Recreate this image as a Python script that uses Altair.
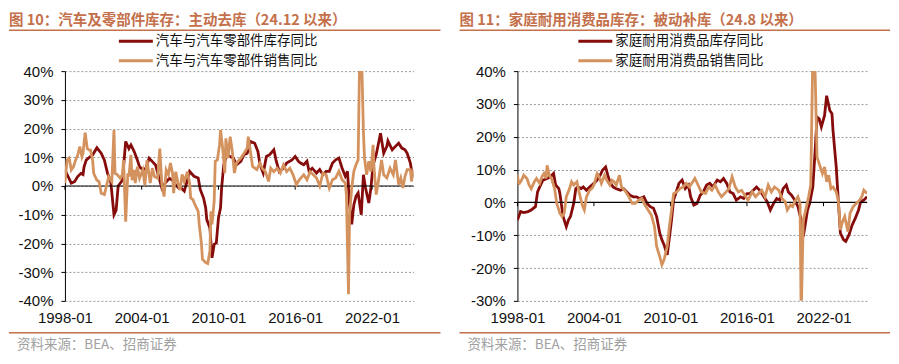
import altair as alt
import pandas as pd

# ---------------- data (values in %, months counted from 1998-01) ----------------
AUTO_TITLE = "图 10：汽车及零部件库存：主动去库（24.12 以来）"
DUR_TITLE = "图 11：家庭耐用消费品库存：被动补库（24.8 以来）"
AUTO_NAMES = ["汽车与汽车零部件库存同比", "汽车与汽车零部件销售同比"]
DUR_NAMES = ["家庭耐用消费品库存同比", "家庭耐用消费品销售同比"]
SOURCE = "资料来源：BEA、招商证券"
X_TICK_LABELS = ["1998-01", "2004-01", "2010-01", "2016-01", "2022-01"]
Y_TICKS_AUTO = [-40, -30, -20, -10, 0, 10, 20, 30, 40]
Y_TICKS_DUR = [-30, -20, -10, 0, 10, 20, 30, 40]
AUTO_END = "2025-04"
DUR_END = "2025-06"

# (months since 1998-01, YoY %)
auto_inv = [(0,5.6),(3,3.3),(6,1.0),(9,1.5),(12,3.3),(15,4.4),(17,4.0),(18,6.7),(20,9.0),(23,10.0),
    (26,10.8),(30,13.3),(34,11.4),(37,9.0),(40,4.4),(43,1.5),(46,-10.0),(48,-8.4),(50,0.0),(54,2.0),
    (57,15.5),(60,13.0),(62,14.3),(65,12.0),(68,9.0),(70,6.7),(73,5.6),(76,6.2),(79,9.7),(82,8.5),
    (85,7.3),(88,3.3),(91,-0.8),(94,1.0),(98,2.7),(101,2.0),(104,0.3),(107,-0.8),(109,-0.7),(112,-1.8),
    (115,2.2),(117,5.1),(121,3.4),(125,2.8),(127,-1.3),(130,-4.2),(132,-7.6),(133,-11.7),(136,-14.6),
    (138,-25.0),(140,-20.3),(142,-19.8),(144,-11.1),(146,-7.6),(147,-0.7),(149,7.4),(152,10.9),(155,10.3),
    (158,9.7),(161,7.4),(165,8.6),(168,10.9),(171,11.4),(174,15.5),(178,14.9),(181,12.0),(183,7.4),
    (186,4.5),(189,10.3),(192,10.9),(196,12.6),(198,9.1),(201,5.0),(205,6.2),(208,8.0),(213,9.1),
    (216,10.3),(219,8.6),(221,8.0),(224,7.4),(227,8.6),(229,5.1),(232,6.2),(236,4.5),(239,5.7),(242,3.9),
    (245,5.1),(248,5.1),(251,8.0),(254,9.1),(257,9.7),(260,6.2),(263,3.4),(265,5.1),(267,-6.5),(269,-13.4),
    (271,-6.5),(273,-3.6),(275,-2.4),(278,-10.0),(280,3.9),(282,-0.7),(285,-5.9),(287,-0.7),(289,7.4),
    (292,10.9),(296,18.4),(299,11.4),(302,13.8),(303,15.7),(307,12.6),(310,13.8),(313,14.9),(316,13.2),
    (319,12.6),(321,11.4),(324,8.0),(326,3.4),(327,3.4)]

auto_sales = [(0,1.0),(2,9.0),(4,9.7),(6,5.6),(8,6.7),(10,9.0),(12,10.8),(14,13.7),(16,10.2),(17,11.4),
    (19,18.6),(21,13.0),(23,12.5),(24,12.5),(26,9.0),(27,4.4),(30,2.0),(32,1.5),(34,-2.5),(37,-3.0),
    (39,0.0),(41,3.3),(44,1.5),(46,19.5),(47,4.4),(49,4.0),(52,2.7),(54,4.0),(55,9.0),(57,-12.4),
    (59,4.4),(60,3.3),(62,10.8),(63,2.0),(65,5.6),(66,1.0),(68,6.7),(70,2.7),(73,5.6),(75,0.3),(77,9.0),
    (80,1.0),(82,6.2),(84,3.3),(87,2.7),(89,13.0),(91,0.3),(93,-3.7),(95,5.6),(97,4.0),(99,8.0),(101,4.4),
    (102,-2.5),(104,5.0),(106,1.0),(108,-1.4),(110,4.0),(112,1.6),(115,5.0),(117,1.0),(118,-4.2),
    (120,-4.7),(122,-6.5),(125,-8.8),(126,-13.4),(128,-20.0),(129,-25.5),(132,-26.7),(134,-27.0),
    (136,-22.7),(137,-8.8),(138,-13.4),(140,-5.3),(141,8.6),(143,9.1),(145,14.3),(146,19.5),(148,13.2),
    (150,4.5),(151,16.6),(153,9.7),(155,17.2),(157,12.0),(159,4.5),(161,8.0),(165,9.7),(168,11.4),
    (171,13.2),(172,17.2),(174,12.0),(176,6.8),(180,5.7),(183,8.0),(185,6.2),(188,5.0),(191,1.6),
    (193,6.2),(196,5.0),(199,6.2),(202,4.5),(205,7.4),(208,5.0),(211,6.2),(214,3.9),(217,0.5),(220,2.2),
    (224,3.9),(227,2.2),(230,5.0),(233,3.9),(236,2.8),(239,0.0),(242,4.5),(245,3.9),(248,-0.7),(251,2.2),
    (254,2.8),(257,5.1),(260,2.2),(263,1.0),(264,-3.0),(266,-37.7),(267,-10.0),(269,-0.7),(271,5.1),
    (273,7.4),(275,9.1),(277,60.0),(278,50.0),(280,19.0),(281,9.7),(283,3.9),(285,8.6),(287,5.0),
    (289,14.3),(290,6.2),(292,-3.0),(295,3.9),(297,9.1),(299,3.9),(302,2.8),(305,6.2),(308,3.9),
    (310,9.1),(313,0.5),(315,2.8),(317,-0.7),(319,3.4),(321,5.7),(324,5.7),(325,1.6),(327,5.7)]

dur_inv = [(0,-5.4),(3,-2.8),(6,-3.1),(10,-2.8),(13,-2.3),(17,-1.3),(19,3.2),(21,4.7),(24,6.8),(28,7.3),
    (31,7.8),(34,8.8),(36,5.3),(39,4.2),(40,2.7),(43,-4.3),(46,-7.4),(48,-5.4),(50,-4.3),(53,-0.3),
    (55,4.2),(57,4.7),(60,4.2),(62,4.7),(65,3.7),(68,4.7),(72,5.8),(75,6.8),(78,8.3),(80,9.8),(83,10.8),
    (85,8.3),(87,6.3),(90,4.7),(93,4.2),(97,3.7),(100,4.2),(103,3.2),(106,2.2),(109,1.7),(112,1.7),
    (115,1.2),(119,1.7),(122,-0.3),(125,-1.3),(128,-1.8),(131,-4.3),(134,-9.4),(136,-11.4),(138,-12.9),
    (141,-16.0),(142,-13.4),(145,-5.4),(147,0.7),(150,3.7),(152,5.8),(155,6.8),(158,4.2),(161,5.3),
    (163,1.7),(166,-0.8),(169,-0.3),(172,2.2),(175,3.2),(178,5.3),(181,5.8),(184,4.7),(188,6.8),(191,6.3),
    (194,7.3),(197,5.8),(200,3.2),(203,2.7),(206,0.7),(210,1.7),(213,1.2),(216,2.7),(219,2.7),(222,3.7),
    (225,4.7),(228,3.7),(232,1.7),(235,0.2),(238,-2.3),(241,-0.3),(244,1.2),(247,0.7),(250,4.2),(253,5.3),
    (255,3.2),(258,2.2),(261,0.7),(264,-1.3),(267,-5.4),(269,-10.4),(271,-6.4),(273,-2.3),(275,-0.3),
    (278,4.7),(280,14.8),(282,26.0),(284,25.5),(286,23.0),(289,26.5),(291,32.5),(294,28.0),(296,27.0),
    (297,21.9),(300,10.8),(302,0.7),(304,-9.4),(307,-11.4),(309,-11.9),(312,-9.9),(315,-6.9),(318,-4.8),
    (321,-2.3),(323,0.2),(326,0.7),(329,1.7)]

dur_sales = [(0,8.5),(1,6.0),(2,5.8),(4,6.8),(6,8.3),(9,7.3),(11,5.3),(13,4.2),(16,6.3),(18,7.3),(21,5.8),
    (23,7.8),(25,8.8),(27,7.3),(28,11.3),(30,8.3),(32,7.3),(35,4.2),(37,-0.3),(40,-3.3),(42,-4.3),
    (44,-3.3),(46,1.7),(49,4.2),(51,6.3),(53,5.3),(56,6.3),(58,3.2),(61,-0.8),(63,-2.3),(65,1.7),(68,3.7),
    (70,4.2),(72,5.3),(75,8.8),(77,7.8),(79,5.8),(82,8.3),(84,6.8),(87,5.3),(89,6.8),(91,6.3),(93,5.3),
    (96,8.3),(98,4.7),(101,3.7),(104,2.2),(108,-0.3),(111,-0.3),(114,0.7),(117,1.2),(120,-0.8),(123,-2.3),
    (126,-3.8),(129,-7.4),(131,-13.4),(134,-16.5),(136,-19.0),(138,-17.5),(141,-13.4),(143,-7.4),
    (145,-2.3),(147,2.7),(150,3.2),(153,4.2),(156,4.7),(159,5.8),(162,4.7),(164,5.8),(167,7.3),(170,5.3),
    (173,3.2),(177,2.7),(180,4.7),(183,3.7),(186,5.3),(189,3.2),(192,1.7),(195,2.7),(199,4.2),(202,7.8),
    (205,4.7),(208,3.2),(211,3.7),(214,2.2),(217,0.7),(221,3.2),(224,1.7),(227,2.7),(230,3.7),(233,1.7),
    (236,5.3),(239,3.2),(242,4.7),(246,3.7),(249,1.2),(252,0.2),(254,-2.3),(257,-0.8),(259,-1.3),
    (261,0.2),(264,1.7),(266,-0.3),(267,-35.0),(269,-5.4),(272,-1.3),(274,1.7),(276,5.3),(278,45.0),
    (279,65.0),(280,42.0),(282,13.8),(285,10.8),(287,8.8),(289,10.8),(291,6.3),(293,8.3),(295,4.2),
    (297,4.7),(300,3.2),(302,0.7),(304,-8.4),(306,-5.9),(308,-4.3),(311,-8.9),(313,-3.3),(316,-1.3),
    (319,-0.3),(322,0.7),(324,1.7),(326,3.7),(329,2.7)]

# ---------------- styling ----------------
RED = "#860B0B"
TAN = "#D4935E"
ACCENT = "#C4704B"
GREY = "#A0A0A0"
CJK = "Noto Sans CJK SC"
LAT = "Liberation Sans"
H = 230
BASE = pd.Timestamp("1998-01-01")


def frame(pairs, name):
    return pd.DataFrame({
        "date": [BASE + pd.DateOffset(months=m) for m, _ in pairs],
        "value": [v for _, v in pairs],
        "series": name,
    })


def dt(s):
    return alt.DateTime(year=int(s[:4]), month=int(s[5:7]), date=1)


def panel(inv, sales, names, title, yticks, end, width, title_x, leg_x, line_right, tick_len):
    d_inv = frame(inv, names[0])
    d_sales = frame(sales, names[1])
    xs = alt.Scale(domain=[dt("1998-01"), dt(end)])
    ys = alt.Scale(domain=[yticks[0], yticks[-1]], nice=False)
    xaxis = alt.Axis(values=[dt(s) for s in X_TICK_LABELS], format="%Y-%m",
                     grid=False, domain=False, ticks=False, labelFlush=False,
                     labelOverlap=False, title=None,
                     labelPadding=10, labelFont=LAT, labelFontSize=15, labelColor="#111")
    yaxis = alt.Axis(values=yticks, labelExpr="datum.value + '%'", grid=True,
                     labelOverlap=False, labelFlush=False, title=None,
                     gridDash=[2, 2], gridColor="#9A9A9A", gridWidth=1,
                     domainColor="#000", tickColor="#000", tickSize=4,
                     labelPadding=8, labelFont=LAT, labelFontSize=15, labelColor="#111")
    x = alt.X("date:T", scale=xs, axis=xaxis)
    y = alt.Y("value:Q", scale=ys, axis=yaxis)

    ticks_df = pd.DataFrame({"date": [pd.Timestamp(s + "-01") for s in X_TICK_LABELS],
                             "value": 0.0, "value2": -tick_len})
    zero = alt.Chart(pd.DataFrame({"value": [0.0]})).mark_rule(
        color="#000", strokeWidth=1.2).encode(y=y)
    zticks = alt.Chart(ticks_df).mark_rule(color="#000", strokeWidth=1).encode(
        x=x, y=y, y2="value2:Q")

    l_inv = alt.Chart(d_inv).mark_line(color=RED, strokeWidth=2.8, clip=True).encode(x=x, y=y)
    l_sales = alt.Chart(d_sales).mark_line(color=TAN, strokeWidth=2.8, clip=True).encode(x=x, y=y)

    one = pd.DataFrame({"t": [title]})
    # invisible anchor keeps room above the title so it is not cut at the top
    anchor = alt.Chart(one).mark_rule(color="white", opacity=0, strokeWidth=1).encode(
        x=alt.value(0), x2=alt.value(2), y=alt.value(-63))
    ttl = alt.Chart(one).mark_text(align="left", baseline="middle", fontSize=14.5,
                                   fontWeight="bold", color=ACCENT, font=CJK).encode(
        x=alt.value(title_x), y=alt.value(-50.5), text="t:N")
    ttl_line = alt.Chart(one).mark_rule(color=ACCENT, strokeWidth=1.5).encode(
        x=alt.value(title_x), x2=alt.value(line_right), y=alt.value(-41))

    legs = []
    for i, (nm, col) in enumerate(zip(names, [RED, TAN])):
        yy = -30 + 19.5 * i
        sub = pd.DataFrame({"name": [nm]})
        legs.append(alt.Chart(sub).mark_rule(color=col, strokeWidth=3).encode(
            x=alt.value(leg_x), x2=alt.value(leg_x + 34), y=alt.value(yy)))
        legs.append(alt.Chart(sub).mark_text(align="left", baseline="middle", fontSize=13.5,
                                             font=CJK, color="#111").encode(
            x=alt.value(leg_x + 37), y=alt.value(yy), text="name:N"))

    src = pd.DataFrame({"t": [SOURCE]})
    src_line = alt.Chart(src).mark_rule(color=ACCENT, strokeWidth=1.5).encode(
        x=alt.value(title_x), x2=alt.value(line_right), y=alt.value(H + 32))
    src_text = alt.Chart(src).mark_text(align="left", baseline="middle", fontSize=13.5,
                                        font=CJK, color=GREY).encode(
        x=alt.value(title_x + 8), y=alt.value(H + 44), text="t:N")

    return alt.layer(l_inv, zero, zticks, l_sales, anchor, ttl, ttl_line, *legs, src_line,
                     src_text).properties(width=width, height=H)


left = panel(auto_inv, auto_sales, AUTO_NAMES, AUTO_TITLE, Y_TICKS_AUTO, AUTO_END, 349,
             -56, 54, 376, 1.3)
right = panel(dur_inv, dur_sales, DUR_NAMES, DUR_TITLE, Y_TICKS_DUR, DUR_END, 350,
              -58, 61, 373, 1.15)

chart = alt.hconcat(left, right, spacing=104, bounds="flush").properties(
    padding=0, background="white"
).configure_view(stroke=None)

chart.save("out.html", embed_options={"renderer": "svg", "actions": False})
